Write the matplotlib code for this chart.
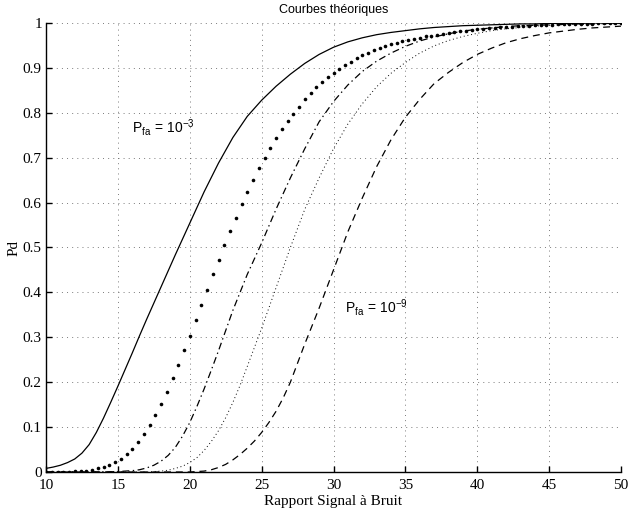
import numpy as np
import matplotlib
matplotlib.use("Agg")
import matplotlib.pyplot as plt

plt.rcParams['mathtext.fontset'] = 'custom'
plt.rcParams['mathtext.rm'] = 'Liberation Sans'
plt.rcParams['mathtext.it'] = 'Liberation Sans:italic'
plt.rcParams['lines.scale_dashes'] = False

# ---- data ----
snr_solid = [10, 10.5, 11, 11.5, 12, 12.5, 13, 13.5, 14, 14.5, 15, 15.5, 16, 16.5,
             17, 17.5, 18, 18.5, 19, 19.5, 20, 21, 22, 23, 24, 25, 26, 27, 28, 29,
             30, 31, 32, 33, 34, 35, 36, 37, 38, 39, 40, 41, 42, 43, 44, 45, 46,
             47, 48, 49, 50]
pd_solid = [0.008, 0.011, 0.015, 0.021, 0.029, 0.042, 0.061, 0.088, 0.120, 0.155,
            0.191, 0.228, 0.265, 0.303, 0.340, 0.376, 0.412, 0.448, 0.484, 0.519,
            0.554, 0.624, 0.688, 0.745, 0.792, 0.828, 0.859, 0.886, 0.910, 0.930,
            0.946, 0.958, 0.967, 0.974, 0.979, 0.983, 0.987, 0.990, 0.992, 0.994,
            0.995, 0.996, 0.997, 0.998, 0.998, 0.999, 0.999, 0.999, 1.000, 1.000, 1.000]

snr_dashdot = [10, 12, 14, 15, 16, 16.5, 17, 17.5, 18, 18.5, 19, 19.5, 20, 20.5,
               21, 21.5, 22, 23, 24, 25, 26, 27, 28, 29, 30, 31, 32, 33, 34, 35,
               36, 37, 38, 39, 40, 41, 42, 43, 44, 45, 46, 47, 48, 49, 50]
pd_dashdot = [0.000, 0.000, 0.000, 0.001, 0.003, 0.005, 0.009, 0.015, 0.024, 0.037,
              0.055, 0.080, 0.110, 0.146, 0.185, 0.227, 0.270, 0.360, 0.440, 0.510,
              0.585, 0.655, 0.720, 0.780, 0.825, 0.862, 0.892, 0.915, 0.933, 0.948,
              0.960, 0.969, 0.976, 0.982, 0.986, 0.989, 0.992, 0.994, 0.995, 0.996,
              0.997, 0.998, 0.998, 0.999, 0.999]

snr_dotted = [10, 14, 17, 18, 18.5, 19, 19.5, 20, 20.5, 21, 21.5, 22, 22.5, 23,
              23.5, 24, 25, 26, 27, 28, 29, 30, 31, 32, 33, 34, 35, 36, 37, 38,
              39, 40, 41, 42, 43, 44, 45, 46, 47, 48, 49, 50]
pd_dotted = [0.000, 0.000, 0.000, 0.002, 0.004, 0.008, 0.013, 0.021, 0.032, 0.048,
             0.068, 0.092, 0.121, 0.155, 0.193, 0.235, 0.320, 0.410, 0.500, 0.585,
             0.655, 0.720, 0.775, 0.820, 0.858, 0.888, 0.912, 0.933, 0.949, 0.961,
             0.970, 0.977, 0.983, 0.987, 0.990, 0.993, 0.995, 0.996, 0.997, 0.998,
             0.998, 0.999]

snr_dashed = [10, 15, 20, 21, 21.5, 22, 22.5, 23, 23.5, 24, 24.5, 25, 25.5, 26,
              26.5, 27, 28, 29, 30, 31, 32, 33, 34, 35, 36, 37, 38, 39, 40, 41,
              42, 43, 44, 45, 46, 47, 48, 49, 50]
pd_dashed = [0.000, 0.000, 0.000, 0.002, 0.005, 0.010, 0.017, 0.027, 0.039, 0.053,
             0.069, 0.088, 0.110, 0.135, 0.165, 0.200, 0.285, 0.365, 0.450, 0.535,
             0.610, 0.680, 0.740, 0.790, 0.830, 0.865, 0.890, 0.912, 0.930, 0.944,
             0.956, 0.965, 0.972, 0.978, 0.982, 0.986, 0.989, 0.991, 0.993]

snr_fine = [round(10 + 0.4 * k, 1) for k in range(101)]
pd_dots = [0.000, 0.000, 0.001, 0.001, 0.001, 0.002, 0.002, 0.003, 0.005, 0.008,
           0.011, 0.016, 0.022, 0.030, 0.039, 0.051, 0.066, 0.084, 0.104, 0.127,
           0.151, 0.179, 0.209, 0.238, 0.272, 0.304, 0.338, 0.371, 0.405, 0.440,
           0.472, 0.505, 0.537, 0.566, 0.596, 0.623, 0.650, 0.676, 0.700, 0.722,
           0.744, 0.763, 0.782, 0.798, 0.814, 0.830, 0.843, 0.857, 0.869, 0.879,
           0.889, 0.898, 0.906, 0.914, 0.921, 0.928, 0.934, 0.940, 0.945, 0.949,
           0.953, 0.956, 0.959, 0.962, 0.965, 0.967, 0.970, 0.972, 0.974, 0.976,
           0.978, 0.980, 0.982, 0.983, 0.985, 0.986, 0.987, 0.988, 0.989, 0.990,
           0.991, 0.992, 0.993, 0.993, 0.994, 0.995, 0.995, 0.996, 0.996, 0.997,
           0.997, 0.997, 0.998, 0.998, 0.998, 0.998, 0.999, 0.999, 0.999, 0.999, 0.999]

xticks = [10, 15, 20, 25, 30, 35, 40, 45, 50]
yticks = [0, 0.1, 0.2, 0.3, 0.4, 0.5, 0.6, 0.7, 0.8, 0.9, 1]
ytick_labels = ['0', '0.1', '0.2', '0.3', '0.4', '0.5', '0.6', '0.7', '0.8', '0.9', '1']

title = 'Courbes théoriques'
xlabel = 'Rapport Signal à Bruit'
ylabel = 'Pd'

# ---- figure ----
fig = plt.figure(figsize=(6.28, 5.18), dpi=100)
ax = fig.add_axes([46/628, (518-472)/518, (621-46)/628, (472-23)/518])

lw = 0.9
ax.plot(snr_solid, pd_solid, color='black', lw=lw, linestyle='-')
ax.plot(snr_fine, pd_dots, color='black', linestyle='none', marker='o', ms=2.6, mew=0)
ax.plot(snr_dashdot, pd_dashdot, color='black', lw=lw, linestyle=(0, (5, 2.5, 1, 2.5)))
ax.plot(snr_dotted, pd_dotted, color='black', lw=0.7, linestyle=(0, (0.7, 2.0)))
ax.plot(snr_dashed, pd_dashed, color='black', lw=lw, linestyle=(0, (5, 3.5)))

ax.set_xlim(10, 50)
ax.set_ylim(0, 1)
ax.set_xticks(xticks)
ax.set_yticks(yticks)
ax.set_yticklabels(ytick_labels)

ax.grid(True, color='0.4', linestyle=(0, (0.7, 3)), linewidth=0.6)
ax.set_axisbelow(True)

for s in ['top', 'right']:
    ax.spines[s].set_visible(False)
for s in ['left', 'bottom']:
    ax.spines[s].set_linewidth(1.0)

ax.tick_params(direction='in', length=4, width=1, labelsize=11, pad=3)
for lab in ax.get_xticklabels() + ax.get_yticklabels():
    lab.set_family('Liberation Serif')
ax.tick_params(axis='x', pad=5)

ax.set_xlabel(xlabel, family='Liberation Serif', fontsize=11, labelpad=2)
ax.set_ylabel(ylabel, family='Liberation Serif', fontsize=11, labelpad=2)
ax.set_title(title, family='Liberation Sans', fontsize=9, pad=7)

ax.text(15.96, 0.755, r'$\mathrm{P_{fa}\,=\,10^{-3}}$', fontsize=10,
        ha='left', va='baseline')
ax.text(30.8, 0.355, r'$\mathrm{P_{fa}\,=\,10^{-9}}$', fontsize=10,
        ha='left', va='baseline')

fig.savefig('out.png', dpi=100)
